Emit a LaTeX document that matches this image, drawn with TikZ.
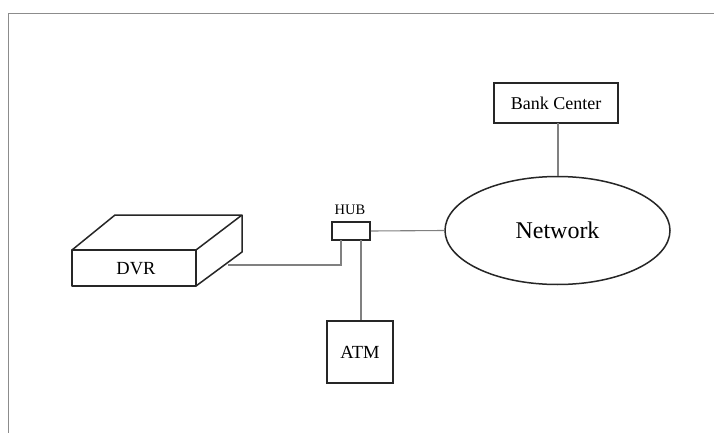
\documentclass[tikz,border=0pt]{standalone}
\usepackage{fontspec}
\setmainfont{Liberation Serif}
\usetikzlibrary{shapes.geometric}
\begin{document}
\begin{tikzpicture}[x=1pt,y=-1pt,
  box/.style={draw=black!85,line width=1.5pt,inner sep=0pt},
  wire/.style={draw=black!50,line width=1.1pt},
  frameline/.style={draw=black!45,line width=1.5pt}]
\useasboundingbox (0,0) rectangle (714,433);
\fill[white] (0,0) rectangle (714,433);
% frame
\draw[frameline] (714,13.5) -- (8.5,13.5) -- (8.5,433);
% DVR
\coordinate (f1) at (72,250);
\coordinate (f2) at (196,250);
\coordinate (f3) at (196,286);
\coordinate (f4) at (72,286);
\coordinate (b1) at (115,215);
\coordinate (b2) at (242,215);
\coordinate (b3) at (242,252);
\draw[box,line join=round] (f1) -- (f2) -- (f3) -- (f4) -- cycle;
\draw[box,line join=round] (f1) -- (b1) -- (b2) -- (f2);
\draw[box,line join=round] (b2) -- (b3) -- (f3);
\node[font=\fontsize{18.5}{22}\selectfont] (dvr) at (136,269) {DVR};
\coordinate (dvrport) at (228,265);
% HUB
\node[box,minimum width=38pt,minimum height=18pt] (hub) at (351,231) {};
\node[font=\fontsize{14.5}{17}\selectfont,anchor=south] (hublbl) at (350,218.5) {HUB};
% ATM
\node[box,minimum width=66pt,minimum height=62pt,font=\fontsize{18.5}{22}\selectfont] (atm) at (360,352) {ATM};
% Network
\node[ellipse,draw=black!85,line width=1.5pt,minimum width=225pt,minimum height=108pt,inner sep=0pt,font=\fontsize{24}{28}\selectfont] (net) at (557.5,230.5) {Network};
% Bank Center
\node[box,minimum width=124pt,minimum height=40pt,font=\fontsize{18}{21}\selectfont] (bank) at (556,103) {Bank Center};
% wires
\draw[wire] (dvrport) -- (341,265) -- (341,240);
\draw[wire] (361,240) -- (atm.north -| 361,0);
\draw[wire] (hub.east) -- (net.west);
\draw[wire] (558,123) -- (net.north -| 558,0);
\end{tikzpicture}
\end{document}
